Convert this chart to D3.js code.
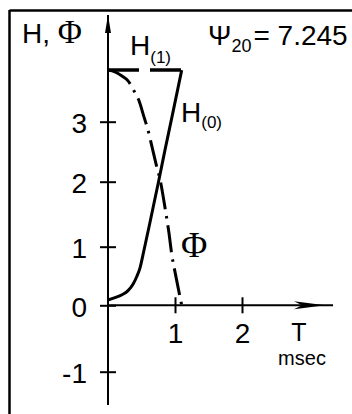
<!DOCTYPE html>
<html><head><meta charset="utf-8">
<script src="https://cdn.jsdelivr.net/npm/d3@7"></script>
<style>html,body{margin:0;padding:0;background:#fff;overflow:hidden}</style>
</head><body>
<script>
// Axis ticks
const xTicks = [1, 2];
const yTicks = [-1, 0, 1, 2, 3];

// H(0): rising solid curve
const tH0 = [0, 0.104, 0.209, 0.299, 0.373, 0.433, 0.478, 0.537, 0.634, 0.754, 0.851, 0.955, 1.10];
const vH0 = [0.09, 0.13, 0.18, 0.25, 0.36, 0.50, 0.64, 0.94, 1.41, 2.00, 2.53, 3.08, 3.86];

// Φ: falling dash-dot curve
const tPhi = [0, 0.104, 0.209, 0.299, 0.358, 0.403, 0.463, 0.537, 0.597, 0.657, 0.716, 0.784, 0.851, 0.910, 0.955, 1.0, 1.045, 1.10];
const vPhi = [3.86, 3.83, 3.76, 3.68, 3.58, 3.48, 3.35, 3.08, 2.86, 2.58, 2.30, 2.00, 1.60, 1.21, 0.84, 0.57, 0.31, 0.0];

// H(1): dashed plateau
const tH1 = [0, 1.10];
const vH1 = [3.86, 3.86];

const W = 352, H = 414;
const svg = d3.select("body").append("svg").attr("width", W).attr("height", H);

const x = d3.scaleLinear().domain([0, 2]).range([108, 242]);
const y = d3.scaleLinear().domain([-1, 0, 1, 2, 3]).range([371.7, 305.3, 246.7, 181.7, 121.7]);

const sans = "'Liberation Sans', Arial, sans-serif";
const serif = "'Liberation Serif', 'Times New Roman', serif";

// frame (top and left rules)
svg.append("line").attr("x1", 9.5).attr("x2", W).attr("y1", 10.5).attr("y2", 10.5)
  .attr("stroke", "#000").attr("stroke-width", 2.5);
svg.append("line").attr("x1", 9.5).attr("x2", 9.5).attr("y1", 10).attr("y2", H)
  .attr("stroke", "#000").attr("stroke-width", 2.5);

// axes
const yAxis = d3.axisLeft(y).tickValues(yTicks).tickSize(0).tickFormat("");
const gy = svg.append("g").attr("transform", `translate(${x(0)},0)`).call(yAxis);
gy.select(".domain").remove();
gy.append("line").attr("x1", 0).attr("x2", 0).attr("y1", 15).attr("y2", 405)
  .attr("stroke", "#000").attr("stroke-width", 2);
gy.selectAll(".tick").append("line").attr("x1", -8).attr("x2", 8).attr("stroke", "#000").attr("stroke-width", 2);
gy.selectAll(".tick").append("text").attr("x", -21).attr("y", 11)
  .attr("text-anchor", "end").attr("font-family", sans).attr("font-size", 28).attr("fill", "#000")
  .text(d => d);
gy.append("path").attr("d", "M0,15 L-3,33 L3,33 Z").attr("fill", "#000");

const xAxis = d3.axisBottom(x).tickValues(xTicks).tickSize(0).tickFormat("");
const gx = svg.append("g").attr("transform", `translate(0,${y(0)})`).call(xAxis);
gx.select(".domain").remove();
gx.append("line").attr("x1", x(0)).attr("x2", 333).attr("y1", 0).attr("y2", 0)
  .attr("stroke", "#000").attr("stroke-width", 2);
gx.selectAll(".tick").append("line").attr("y1", -8).attr("y2", 8).attr("stroke", "#000").attr("stroke-width", 2);
gx.selectAll(".tick").append("text").attr("y", 38)
  .attr("text-anchor", "middle").attr("font-family", sans).attr("font-size", 28).attr("fill", "#000")
  .text(d => d);
gx.append("path").attr("d", "M325,0 L294,-4 L302,0 L294,4 Z").attr("fill", "#000");

// axis titles
svg.append("text").attr("x", 299).attr("y", 341).attr("text-anchor", "middle")
  .attr("font-family", sans).attr("font-size", 25).text("T");
svg.append("text").attr("x", 302).attr("y", 365).attr("text-anchor", "middle")
  .attr("font-family", sans).attr("font-size", 20).text("msec");

const yt = svg.append("text").attr("x", 22).attr("y", 43).attr("font-family", sans).attr("font-size", 28);
yt.append("tspan").text("H, ");
yt.append("tspan").attr("font-family", serif).attr("font-size", 33).text("Φ");

// curves
const line = d3.line().x(d => x(d[0])).y(d => y(d[1])).curve(d3.curveMonotoneX);

svg.append("path").datum(d3.zip(tH1, vH1)).attr("d", line)
  .attr("fill", "none").attr("stroke", "#000").attr("stroke-width", 3.5)
  .attr("stroke-dasharray", "31,11");

svg.append("path").datum(d3.zip(tH0, vH0)).attr("d", line)
  .attr("fill", "none").attr("stroke", "#000").attr("stroke-width", 3);

svg.append("path").datum(d3.zip(tPhi, vPhi)).attr("d", line)
  .attr("fill", "none").attr("stroke", "#000").attr("stroke-width", 3)
  .attr("stroke-dasharray", "27,7,2.5,7");

// curve labels
const h1 = svg.append("text").attr("x", 130).attr("y", 55).attr("font-family", sans).attr("font-size", 28);
h1.append("tspan").text("H");
h1.append("tspan").attr("font-size", 17).attr("dy", 8).text("(1)");

const h0 = svg.append("text").attr("x", 181).attr("y", 122).attr("font-family", sans).attr("font-size", 28);
h0.append("tspan").text("H");
h0.append("tspan").attr("font-size", 17).attr("dy", 6).text("(0)");

svg.append("text").attr("x", 181).attr("y", 257).attr("font-family", serif).attr("font-size", 36).text("Φ");

const ps = svg.append("text").attr("x", 208).attr("y", 45).attr("font-family", sans).attr("font-size", 28);
ps.append("tspan").text("Ψ");
ps.append("tspan").attr("font-size", 18).attr("dy", 7).text("20");
ps.append("tspan").attr("dy", -7).attr("dx", 2).text("= 7.245");
</script>
</body></html>
